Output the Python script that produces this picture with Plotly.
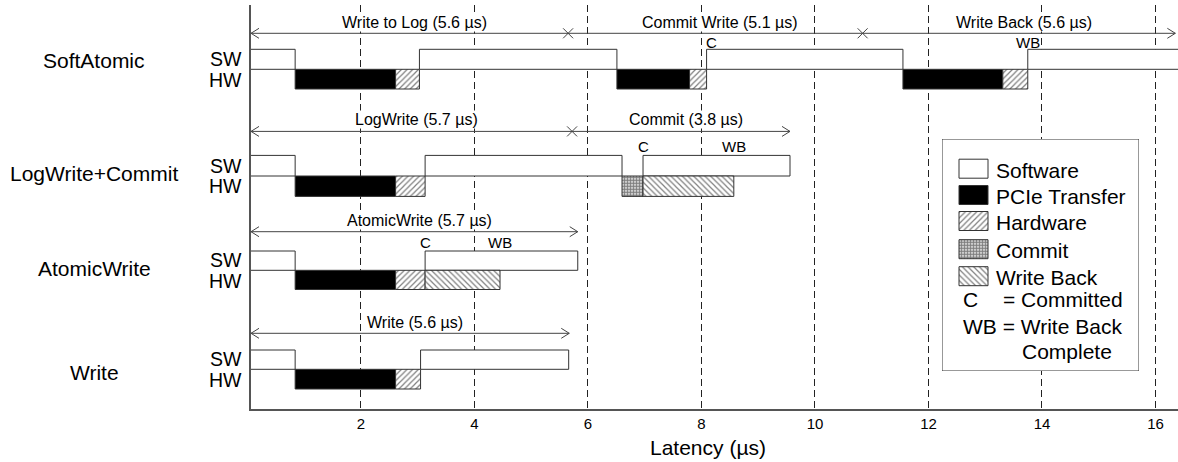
import plotly.graph_objects as go

# ---------------- data (times in µs) ----------------
ROWS = ["SoftAtomic", "LogWrite+Commit", "AtomicWrite", "Write"]

SW_SEGMENTS = [
    ("SoftAtomic", 0.00, 0.84), ("SoftAtomic", 3.03, 6.51),
    ("SoftAtomic", 8.09, 11.55), ("SoftAtomic", 13.75, 16.60),
    ("LogWrite+Commit", 0.00, 0.84), ("LogWrite+Commit", 3.13, 6.60),
    ("LogWrite+Commit", 6.97, 9.56),
    ("AtomicWrite", 0.00, 0.84), ("AtomicWrite", 3.13, 5.82),
    ("Write", 0.00, 0.84), ("Write", 3.05, 5.66),
]
PCIE_SEGMENTS = [
    ("SoftAtomic", 0.84, 2.61), ("SoftAtomic", 6.51, 7.79), ("SoftAtomic", 11.55, 13.31),
    ("LogWrite+Commit", 0.84, 2.61),
    ("AtomicWrite", 0.84, 2.61),
    ("Write", 0.84, 2.61),
]
HW_SEGMENTS = [
    ("SoftAtomic", 2.61, 3.03), ("SoftAtomic", 7.79, 8.09), ("SoftAtomic", 13.31, 13.75),
    ("LogWrite+Commit", 2.61, 3.13),
    ("AtomicWrite", 2.61, 3.13),
    ("Write", 2.61, 3.05),
]
COMMIT_SEGMENTS = [("LogWrite+Commit", 6.60, 6.97)]
WRITEBACK_SEGMENTS = [("LogWrite+Commit", 6.97, 8.57), ("AtomicWrite", 3.13, 4.45)]

PHASES = [
    ("SoftAtomic", "Write to Log (5.6 µs)", 0.0, 5.65),
    ("SoftAtomic", "Commit Write (5.1 µs)", 5.65, 10.84),
    ("SoftAtomic", "Write Back (5.6 µs)", 10.84, 16.35),
    ("LogWrite+Commit", "LogWrite (5.7 µs)", 0.0, 5.72),
    ("LogWrite+Commit", "Commit (3.8 µs)", 5.72, 9.56),
    ("AtomicWrite", "AtomicWrite (5.7 µs)", 0.0, 5.82),
    ("Write", "Write (5.6 µs)", 0.0, 5.67),
]
EVENTS = [
    ("SoftAtomic", "C", 8.09), ("SoftAtomic", "WB", 13.75),
    ("LogWrite+Commit", "C", 6.97), ("LogWrite+Commit", "WB", 8.57),
    ("AtomicWrite", "C", 3.13), ("AtomicWrite", "WB", 4.45),
]
X_TICKS = [2, 4, 6, 8, 10, 12, 14, 16]
LEGEND_ITEMS = ["Software", "PCIe Transfer", "Hardware", "Commit", "Write Back"]
X_TITLE = "Latency (µs)"

# ---------------- layout / style ----------------
FONT = "Liberation Sans, Arial, sans-serif"
W, H = 1178, 462
ML, MR, MT, MB = 251, 0, 5, 53
X_MIN, X_MAX = 0.062, 16.397
PLOT_W = W - ML - MR
PLOT_H = H - MT - MB
OUTLINE = "#333333"
ARROW = "#444444"

# y geometry in pixel-like units (y axis runs 409 at bottom -> 5 at top)
ROW_GEOM = {
    "SoftAtomic":      dict(label=22.5, arrow=33.3, top=49.3, mid=69.3, bot=89.0, event=42.0, name=60.7),
    "LogWrite+Commit": dict(label=119.0, arrow=131.4, top=155.4, mid=176.0, bot=196.4, event=146.0, name=173.3),
    "AtomicWrite":     dict(label=220.7, arrow=231.7, top=251.0, mid=270.3, bot=289.5, event=242.0, name=268.3),
    "Write":           dict(label=322.5, arrow=333.3, top=350.0, mid=369.3, bot=389.0, event=340.0, name=372.7),
}
EVENT_XSHIFT = {("SoftAtomic", "C"): 5}

STYLES = {
    "sw": dict(color="white", pattern=None),
    "pcie": dict(color="black", pattern=None),
    "hw": dict(color="white", pattern=dict(shape="/", size=4, solidity=0.3)),
    "commit": dict(color="white", pattern=dict(shape=".", size=3, solidity=0.7)),
    "wb": dict(color="white", pattern=dict(shape="\\", size=4, solidity=0.3)),
}


def make_marker(style):
    m = dict(color=style["color"], line=dict(color=OUTLINE, width=1))
    if style["pattern"]:
        p = dict(style["pattern"])
        p.update(fgcolor="black", bgcolor="white", fillmode="overlay")
        m["pattern"] = p
    return m


def seg_bar(segs, track, style):
    ys, xs, bases, widths = [], [], [], []
    for row, s, e in segs:
        g = ROW_GEOM[row]
        y0, y1 = (g["top"], g["mid"]) if track == "sw" else (g["mid"], g["bot"])
        ys.append((y0 + y1) / 2)
        widths.append(y1 - y0)
        bases.append(s)
        xs.append(e - s)
    return go.Bar(orientation="h", y=ys, x=xs, base=bases, width=widths,
                  marker=make_marker(style), showlegend=False, hoverinfo="skip")


fig = go.Figure()
fig.add_trace(seg_bar(SW_SEGMENTS, "sw", STYLES["sw"]))
fig.add_trace(seg_bar(PCIE_SEGMENTS, "hw", STYLES["pcie"]))
fig.add_trace(seg_bar(HW_SEGMENTS, "hw", STYLES["hw"]))
fig.add_trace(seg_bar(COMMIT_SEGMENTS, "hw", STYLES["commit"]))
fig.add_trace(seg_bar(WRITEBACK_SEGMENTS, "hw", STYLES["wb"]))

shapes = []
annotations = []

# phase arrows
for row in ROWS:
    ph = [p for p in PHASES if p[0] == row]
    g = ROW_GEOM[row]
    start = max(min(p[2] for p in ph), X_MIN)
    end = max(p[3] for p in ph)
    fig.add_trace(go.Scatter(x=[start, end], y=[g["arrow"], g["arrow"]], mode="lines",
                             line=dict(color=ARROW, width=1), showlegend=False, hoverinfo="skip"))
    inner = [p[3] for p in ph[:-1]]
    if inner:
        fig.add_trace(go.Scatter(x=inner, y=[g["arrow"]] * len(inner), mode="markers",
                                 marker=dict(symbol="x-thin", size=10, line=dict(color=ARROW, width=1)),
                                 showlegend=False, hoverinfo="skip"))
    for anchor, dx in ((start, 8), (end, -8)):
        for dy in (5, -5):
            shapes.append(dict(type="line", xref="x", yref="y",
                               xsizemode="pixel", xanchor=anchor, x0=0, x1=dx,
                               ysizemode="pixel", yanchor=g["arrow"], y0=0, y1=dy,
                               line=dict(color=ARROW, width=1), layer="above"))
    for _, text, s, e in ph:
        annotations.append(dict(x=(max(s, X_MIN) + e) / 2, y=g["label"], xref="x", yref="y",
                                text=text, showarrow=False, xshift=5, bgcolor="white", borderpad=0,
                                font=dict(size=16, color="black", family=FONT)))

# event markers (C / WB)
for row, text, t in EVENTS:
    g = ROW_GEOM[row]
    annotations.append(dict(x=t, y=g["event"], xref="x", yref="y", text=text, showarrow=False,
                            xshift=EVENT_XSHIFT.get((row, text), 0), borderpad=0,
                            font=dict(size=15, color="black", family=FONT)))

# row names + SW/HW labels
for row in ROWS:
    g = ROW_GEOM[row]
    annotations.append(dict(x=(94 - ML) / PLOT_W, y=g["name"], xref="paper", yref="y", text=row,
                            showarrow=False, xanchor="center", yanchor="middle",
                            font=dict(size=21, color="black", family=FONT)))
    for lab, yy in (("SW", g["mid"] - 10.2), ("HW", g["mid"] + 10.2)):
        annotations.append(dict(x=(243 - ML) / PLOT_W, y=yy, xref="paper", yref="y", text=lab,
                                showarrow=False, xanchor="right", yanchor="middle", borderpad=0,
                                font=dict(size=19.5, color="black", family=FONT)))

# axis title
annotations.append(dict(x=(708 - ML) / PLOT_W, y=(MT + PLOT_H - 447) / PLOT_H, xref="paper", yref="paper",
                        text=X_TITLE, showarrow=False, xanchor="center", yanchor="middle",
                        font=dict(size=21, color="black", family=FONT)))

# ---------------- legend (inset axes in pixel units) ----------------
LEG_X0, LEG_Y0, LEG_X1, LEG_Y1 = 942, 139, 1139, 371
LEG_SW_X0, LEG_SW_X1 = 959, 988
LEG_ROW_Y = [168.7, 195.0, 221.0, 249.2, 276.2]
LEG_SW_H = 19
leg_styles = [STYLES["sw"], STYLES["pcie"], STYLES["hw"], STYLES["commit"], STYLES["wb"]]
for name, yy, st in zip(LEGEND_ITEMS, LEG_ROW_Y, leg_styles):
    fig.add_trace(go.Bar(orientation="h", y=[yy], x=[LEG_SW_X1 - LEG_SW_X0], base=[LEG_SW_X0],
                         width=[LEG_SW_H], marker=make_marker(st), xaxis="x2", yaxis="y2",
                         showlegend=False, hoverinfo="skip"))
    annotations.append(dict(x=995, y=yy + 1.5, xref="x2", yref="y2", text=name, showarrow=False,
                            xanchor="left", yanchor="middle", borderpad=0,
                            font=dict(size=21, color="black", family=FONT)))
for x, y, t in ((962, 299.3, "C"), (1001.5, 299.3, "= Committed"),
                (962, 326.0, "WB = Write Back"), (1020.5, 351.0, "Complete")):
    annotations.append(dict(x=x, y=y, xref="x2", yref="y2", text=t, showarrow=False,
                            xanchor="left", yanchor="middle", borderpad=0,
                            font=dict(size=21, color="black", family=FONT)))
shapes.append(dict(type="rect", xref="x2", yref="y2", x0=LEG_X0, x1=LEG_X1, y0=LEG_Y0, y1=LEG_Y1,
                   line=dict(color=OUTLINE, width=1), fillcolor="rgba(0,0,0,0)", layer="above"))

fig.update_layout(
    width=W, height=H,
    margin=dict(l=ML, r=MR, t=MT, b=MB, pad=0),
    paper_bgcolor="white", plot_bgcolor="white",
    barmode="overlay",
    showlegend=False,
    font=dict(family=FONT, color="black"),
    xaxis=dict(range=[X_MIN, X_MAX], tickvals=X_TICKS, ticktext=[str(v) for v in X_TICKS],
               showgrid=True, gridcolor="#222222", gridwidth=1, griddash="7px,4px",
               zeroline=False, showline=True, linecolor="#555555", linewidth=1.5,
               ticks="", tickfont=dict(size=15, color="black", family=FONT), fixedrange=True),
    yaxis=dict(range=[MT + PLOT_H, MT], showgrid=False, zeroline=False, showline=True,
               linecolor="#555555", linewidth=1.5, showticklabels=False, ticks="", fixedrange=True),
    xaxis2=dict(domain=[(LEG_X0 - ML) / PLOT_W, (LEG_X1 - ML) / PLOT_W], range=[LEG_X0, LEG_X1],
                anchor="y2", visible=False, fixedrange=True),
    yaxis2=dict(domain=[(MT + PLOT_H - LEG_Y1) / PLOT_H, (MT + PLOT_H - LEG_Y0) / PLOT_H],
                range=[LEG_Y1, LEG_Y0], anchor="x2", visible=False, fixedrange=True),
    shapes=shapes,
    annotations=annotations,
)

fig.write_html("out.html", config={"displayModeBar": False},
               post_script="document.body.style.margin='0';document.body.style.overflow='hidden';")
